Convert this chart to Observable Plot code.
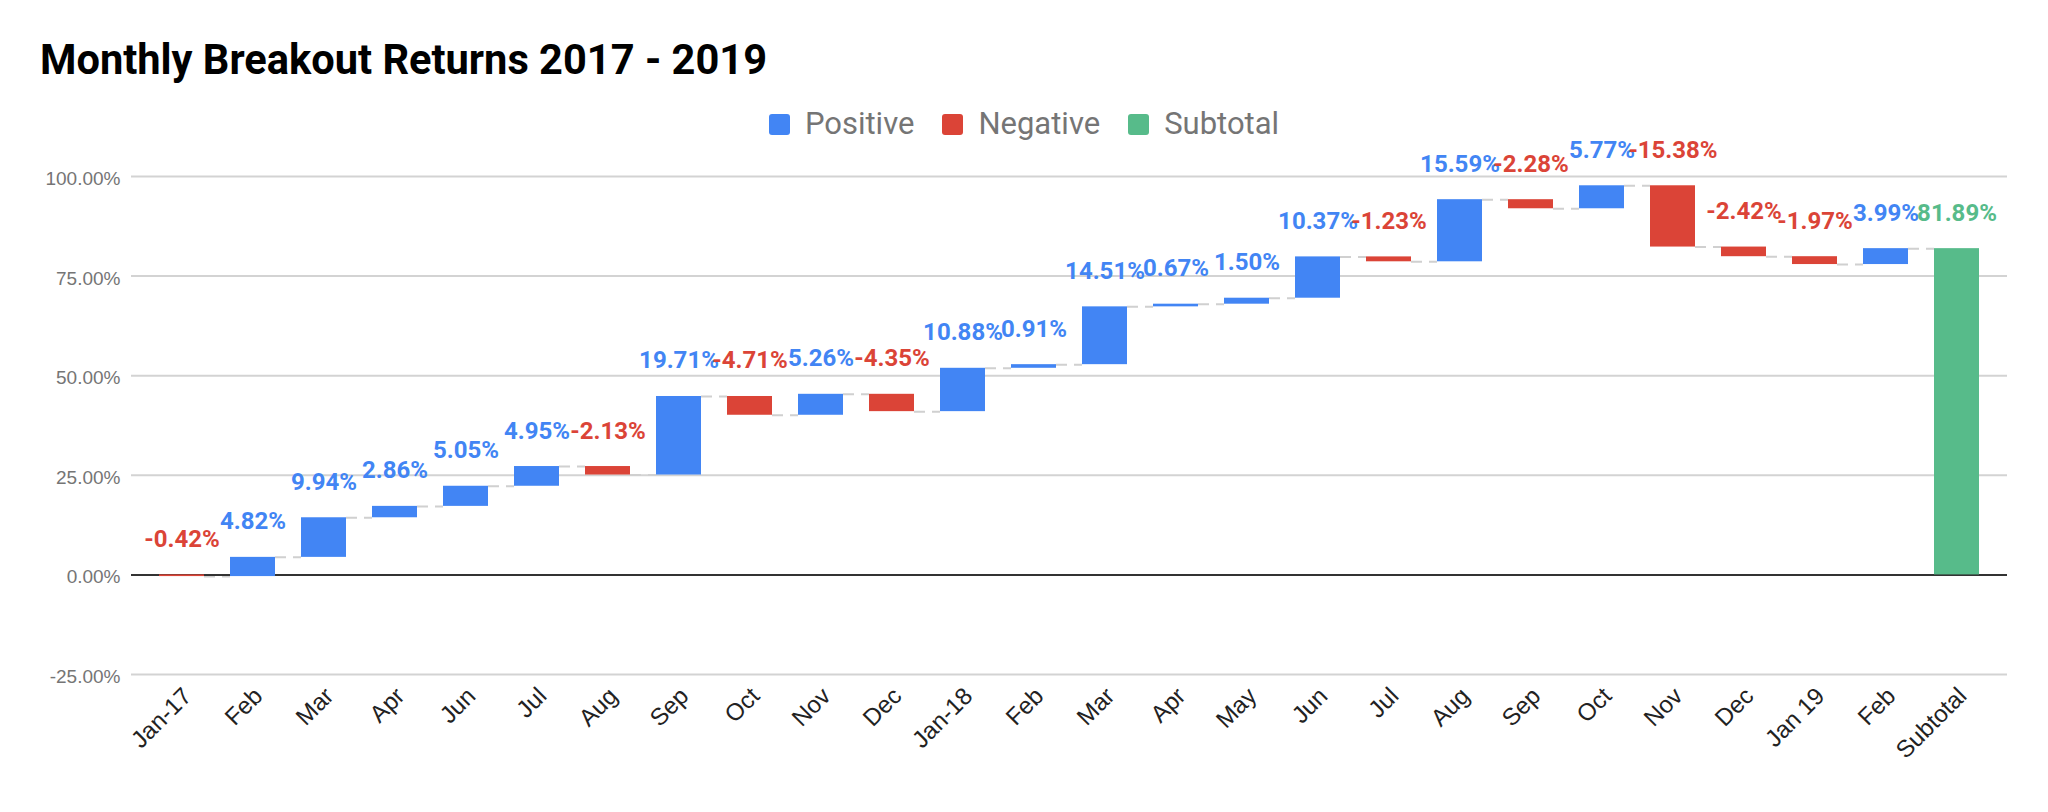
<!DOCTYPE html>
<html><head><meta charset="utf-8">
<script src="https://cdn.jsdelivr.net/npm/d3@7"></script>
<script src="https://cdn.jsdelivr.net/npm/@observablehq/plot@0.6"></script>
<style>
body{margin:0;background:#fff;}
#wrap{position:relative;width:2048px;height:812px;}
#title{position:absolute;left:40px;top:39px;font:bold 41.6px/42px Roboto;color:#000;z-index:2;white-space:nowrap}
#legend{position:absolute;left:0;width:2048px;top:109px;height:30px;display:flex;justify-content:center;align-items:center;font:31px/30px Roboto;color:#757575;z-index:2}
.item{display:flex;align-items:center;margin:0 14px}
.sw{width:21px;height:21px;border-radius:3px;margin-right:15px}
</style></head>
<body><div id="wrap"><div id="title">Monthly Breakout Returns 2017 - 2019</div><div id="legend"></div><div id="chart"></div></div>
<script>
const categories = ["Jan-17","Feb","Mar","Apr","Jun","Jul","Aug","Sep","Oct","Nov","Dec","Jan-18","Feb","Mar","Apr","May","Jun","Jul","Aug","Sep","Oct","Nov","Dec","Jan 19","Feb","Subtotal"];
const returns = [-0.42,4.82,9.94,2.86,5.05,4.95,-2.13,19.71,-4.71,5.26,-4.35,10.88,0.91,14.51,0.67,1.50,10.37,-1.23,15.59,-2.28,5.77,-15.38,-2.42,-1.97,3.99,81.89];
const seriesNames = ["Positive","Negative","Subtotal"];
const seriesColors = ["#4285F4","#DB4437","#57BB8A"];
const yTicks = [-0.25,0,0.25,0.5,0.75,1];

let run = 0;
const rows = categories.map((c,i) => {
  const isSub = c === "Subtotal";
  const v = returns[i]/100;
  const start = isSub ? 0 : run;
  const end = isSub ? v : run + v;
  if (!isSub) run = end;
  return {key: i, label: c, value: returns[i], start, end,
          kind: isSub ? "Subtotal" : (v >= 0 ? "Positive" : "Negative")};
});
const links = rows.slice(0,-1).map((d,i) => ({from: i, to: i+1, level: d.end}));

const legend = document.getElementById("legend");
seriesNames.forEach((n,i) => {
  const it = document.createElement("div"); it.className = "item";
  const sw = document.createElement("span"); sw.className = "sw"; sw.style.background = seriesColors[i];
  it.appendChild(sw); it.appendChild(document.createTextNode(n));
  legend.appendChild(it);
});

const tickFont = "'Liberation Sans', Arial, sans-serif";
function build(bw) {
  return Plot.plot({
    width: 2048, height: 812,
    marginTop: 176, marginBottom: 138, marginLeft: 131, marginRight: 41,
    x: {type: "band", domain: rows.map(d => d.key), paddingInner: 0.37, paddingOuter: 0.345, axis: null},
    y: {domain: [-0.25, 1], axis: null},
    color: {domain: seriesNames, range: seriesColors},
    style: {background: "#fff", fontFamily: "Roboto"},
    marks: [
      Plot.ruleY(yTicks.filter(t => t !== 0), {stroke: "#d3d3d3", strokeWidth: 2}),
      Plot.ruleY(links, {y: "level", x1: "from", x2: "to", insetLeft: bw, insetRight: bw,
        stroke: "#d0d0d0", strokeWidth: 2, strokeDasharray: "11,7"}),
      Plot.ruleY([0], {stroke: "#333", strokeWidth: 2}),
      Plot.barY(rows, {x: "key", y1: "start", y2: "end", fill: "kind"}),
      Plot.text(rows, {x: "key", y: d => Math.max(d.start, d.end), text: d => d.value.toFixed(2) + "%",
        fill: "kind", dy: -28, lineAnchor: "bottom", fontSize: 24, fontWeight: "bold", fontFamily: "Roboto"}),
      Plot.text(yTicks, {y: d => d, text: d => (d*100).toFixed(2) + "%", frameAnchor: "left",
        textAnchor: "end", dx: -11, dy: 2.5, fill: "#757575", fontSize: 19, fontFamily: tickFont}),
      Plot.text(rows, {x: "key", text: "label", frameAnchor: "bottom", rotate: -45, textAnchor: "end",
        dx: 11, dy: 23, fill: "#222", fontSize: 24, fontFamily: tickFont})
    ]
  });
}
const p0 = build(0);
const bw = p0.scale("x").bandwidth;
document.getElementById("chart").appendChild(build(bw));
</script>
</body></html>
